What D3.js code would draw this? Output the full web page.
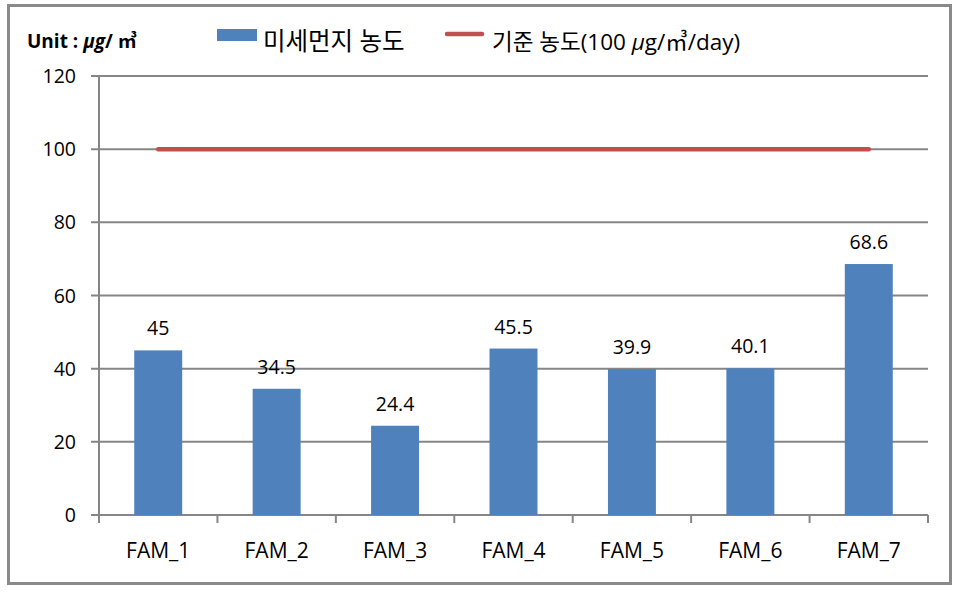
<!DOCTYPE html>
<html><head><meta charset="utf-8">
<script src="https://cdn.jsdelivr.net/npm/d3@7"></script>
<style>
body{margin:0;background:#fff;}
text{font-family:"Open Sans","Noto Sans CJK KR",sans-serif;fill:#000;}
</style></head>
<body>
<svg id="chart" width="958" height="592"></svg>
<script>
const categories = ["FAM_1","FAM_2","FAM_3","FAM_4","FAM_5","FAM_6","FAM_7"];
const dustValues = [45, 34.5, 24.4, 45.5, 39.9, 40.1, 68.6];
const valueLabels = ["45","34.5","24.4","45.5","39.9","40.1","68.6"];
const standardValues = [100,100,100,100,100,100,100];
const yTicks = [0,20,40,60,80,100,120];
const seriesNames = ["미세먼지 농도","기준 농도(100 μg/㎥/day)"];

(function(){
const svg = d3.select("#chart");
const pLeft = 99, pRight = 928, pTop = 76, pBottom = 515;

svg.append("rect").attr("x",8.5).attr("y",5.5).attr("width",942).attr("height",578)
  .attr("fill","#fff").attr("stroke","#8a8a8a").attr("stroke-width",3);

const x = d3.scaleBand().domain(categories).range([pLeft,pRight]).paddingInner(0).paddingOuter(0);
const y = d3.scaleLinear().domain([0,120]).range([pBottom,pTop]);

svg.append("g").selectAll("line").data(yTicks).join("line")
  .attr("x1",91).attr("x2",pRight).attr("y1",d=>y(d)).attr("y2",d=>y(d))
  .attr("stroke","#868686").attr("stroke-width",2);
svg.append("line").attr("x1",pLeft).attr("x2",pLeft).attr("y1",pTop).attr("y2",pBottom+7)
  .attr("stroke","#868686").attr("stroke-width",2);
svg.append("g").selectAll("text").data(yTicks).join("text")
  .attr("x",76).attr("y",d=>y(d)).attr("dy","0.36em").attr("text-anchor","end")
  .attr("font-size",19.5).text(d=>d);
const bounds = categories.map(c=>x(c)).concat([pRight]);
svg.append("g").selectAll("line").data(bounds).join("line")
  .attr("x1",d=>d).attr("x2",d=>d).attr("y1",pBottom).attr("y2",pBottom+8)
  .attr("stroke","#868686").attr("stroke-width",2);
svg.append("g").selectAll("text").data(categories).join("text")
  .attr("x",d=>x(d)+x.bandwidth()/2).attr("y",558).attr("text-anchor","middle")
  .attr("font-size",21).text(d=>d);

const bw = x.bandwidth()*0.405;
svg.append("g").selectAll("rect").data(dustValues).join("rect")
  .attr("x",(d,i)=>x(categories[i])+x.bandwidth()/2-bw/2)
  .attr("y",d=>y(d)).attr("width",bw).attr("height",d=>y(0)-y(d))
  .attr("fill","#4F81BD");
svg.append("g").selectAll("text").data(dustValues).join("text")
  .attr("x",(d,i)=>x(categories[i])+x.bandwidth()/2).attr("y",d=>y(d)-15)
  .attr("text-anchor","middle").attr("font-size",19.5).text((d,i)=>valueLabels[i]);

const line = d3.line().x((d,i)=>x(categories[i])+x.bandwidth()/2).y(d=>y(d));
svg.append("path").datum(standardValues).attr("d",line).attr("fill","none")
  .attr("stroke","#C0504D").attr("stroke-width",4.5).attr("stroke-linecap","round");

const u = svg.append("text").attr("x",27).attr("y",48).attr("font-size",19).attr("font-weight","bold");
u.append("tspan").text("Unit : ");
u.append("tspan").attr("font-style","italic").text("μg");
u.append("tspan").text("/ ㎥");

svg.append("rect").attr("x",217).attr("y",29).attr("width",40).attr("height",12).attr("fill","#4F81BD");
svg.append("text").attr("x",263).attr("y",50).attr("font-size",24.5).text(seriesNames[0]);
svg.append("line").attr("x1",447).attr("x2",482).attr("y1",34).attr("y2",34)
  .attr("stroke","#C0504D").attr("stroke-width",4.5).attr("stroke-linecap","round");
const t2 = svg.append("text").attr("x",492).attr("y",50).attr("font-size",22.5);
t2.append("tspan").text("기준 농도(100 ");
t2.append("tspan").attr("font-style","italic").text("μ");
t2.append("tspan").text("g/㎥/day)");
})();
</script>
</body></html>
